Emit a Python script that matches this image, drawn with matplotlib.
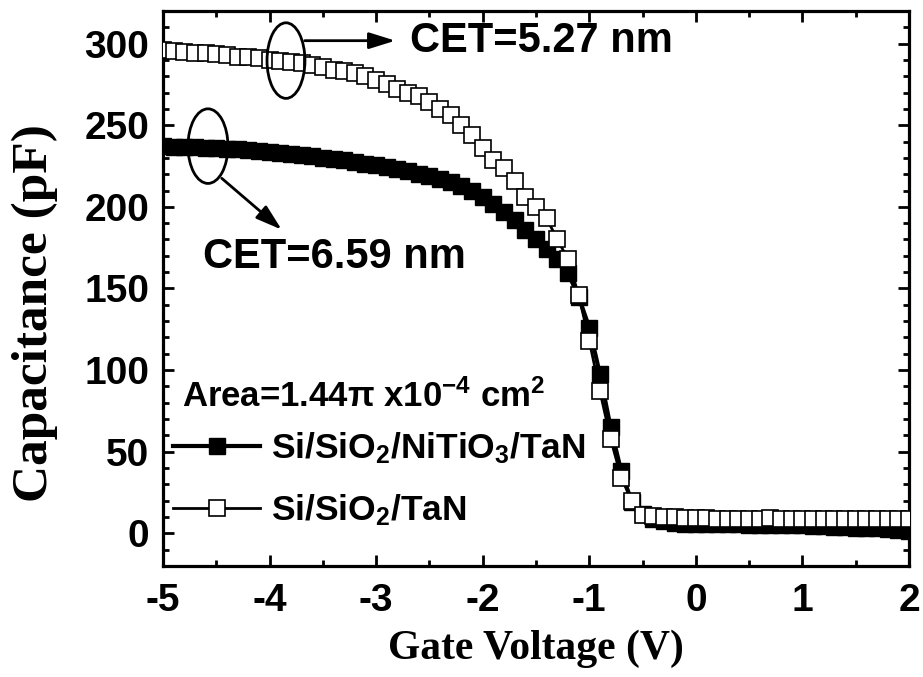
import matplotlib
matplotlib.use("Agg")
import matplotlib.pyplot as plt
from matplotlib.patches import Ellipse

# Gate voltage sweep (V)
voltage = [-5.0, -4.9, -4.8, -4.7, -4.6, -4.5, -4.4, -4.3, -4.2, -4.1,
           -4.0, -3.9, -3.8, -3.7, -3.6, -3.5, -3.4, -3.3, -3.2, -3.1,
           -3.0, -2.9, -2.8, -2.7, -2.6, -2.5, -2.4, -2.3, -2.2, -2.1,
           -2.0, -1.9, -1.8, -1.7, -1.6, -1.5, -1.4, -1.3, -1.2, -1.1,
           -1.0, -0.9, -0.8, -0.7, -0.6, -0.5, -0.4, -0.3, -0.2, -0.1,
           0.0, 0.1, 0.2, 0.3, 0.4, 0.5, 0.6, 0.7, 0.8, 0.9,
           1.0, 1.1, 1.2, 1.3, 1.4, 1.5, 1.6, 1.7, 1.8, 1.9, 2.0]

# Capacitance (pF), Si/SiO2/NiTiO3/TaN stack
cap_nitio3 = [237.0, 236.8, 236.6, 236.4, 236.2, 236.0, 235.6, 235.2, 234.7, 234.2,
              233.6, 233.0, 232.4, 231.7, 231.0, 230.2, 229.3, 228.4, 227.4, 226.4,
              225.4, 224.3, 223.1, 221.8, 220.4, 219.0, 217.3, 215.5, 213.0, 210.0,
              206.0, 202.0, 197.0, 192.0, 186.0, 180.0, 174.0, 168.0, 159.5, 145.0,
              126.0, 97.5, 65.0, 38.0, 19.0, 12.0, 9.0, 7.5, 6.5, 6.0,
              6.0, 5.5, 5.5, 5.5, 5.5, 5.0, 5.0, 5.0, 5.0, 5.0,
              5.0, 4.5, 4.5, 4.0, 4.0, 3.5, 3.0, 3.0, 2.5, 2.0, 1.5]

# Capacitance (pF), Si/SiO2/TaN stack
cap_sio2 = [296.0, 295.5, 295.0, 294.5, 294.0, 293.5, 293.0, 292.0, 291.5, 291.0,
            290.0, 289.5, 289.0, 288.0, 287.0, 285.5, 284.0, 283.0, 282.0, 280.0,
            277.5, 275.0, 272.0, 270.0, 268.0, 264.0, 260.0, 256.0, 250.0, 244.0,
            236.0, 229.0, 223.5, 216.0, 206.0, 200.0, 193.0, 180.0, 168.0, 146.0,
            118.0, 87.0, 58.0, 34.0, 20.0, 11.0, 10.5, 10.0, 10.0, 9.5,
            9.5, 9.5, 9.0, 9.0, 9.0, 9.0, 9.0, 9.5, 9.0, 9.0,
            9.0, 8.5, 8.5, 9.0, 9.0, 9.0, 8.5, 8.5, 8.5, 8.5, 8.5]

x_ticks = [-5, -4, -3, -2, -1, 0, 1, 2]
y_ticks = [0, 50, 100, 150, 200, 250, 300]

label_nitio3 = r"Si/SiO$_\mathbf{2}$/NiTiO$_\mathbf{3}$/TaN"
label_sio2 = r"Si/SiO$_\mathbf{2}$/TaN"

sans = ["Liberation Sans", "DejaVu Sans"]
serif = ["Liberation Serif", "DejaVu Serif"]
plt.rcParams["font.family"] = sans
plt.rcParams["axes.unicode_minus"] = False
plt.rcParams["mathtext.fontset"] = "custom"
plt.rcParams["mathtext.rm"] = "Liberation Sans:bold"
plt.rcParams["mathtext.bf"] = "Liberation Sans:bold"
plt.rcParams["mathtext.it"] = "Liberation Sans:bold"
plt.rcParams["mathtext.default"] = "bf"

fig = plt.figure(figsize=(9.23, 6.77), dpi=100)
ax = fig.add_axes([0.1766, 0.164, 0.8082, 0.8198])

ax.plot(voltage, cap_nitio3, color="black", lw=3.0, marker="s", ms=11,
        mfc="black", mec="black", mew=1.0, label=label_nitio3, zorder=3)
ax.plot(voltage, cap_sio2, color="black", lw=2.0, marker="s", ms=11,
        mfc="white", mec="black", mew=1.2, label=label_sio2, zorder=4)

ax.set_xlim(-5, 2)
ax.set_ylim(-20, 320)
ax.set_xticks(x_ticks)
ax.set_yticks(y_ticks)
ax.set_xticks([v + 0.5 for v in x_ticks[:-1]], minor=True)
ax.set_yticks([v for v in range(-10, 320, 10) if v % 50 != 0], minor=True)

for side in ["left", "right", "top", "bottom"]:
    ax.spines[side].set_linewidth(2.3)
ax.tick_params(which="both", direction="in", top=True, right=True,
               width=2.0)
ax.tick_params(which="major", length=8)
ax.tick_params(which="minor", length=4.5)
ax.tick_params(axis="x", which="major", pad=12)
ax.tick_params(axis="y", which="major", pad=10)
for lbl in ax.get_xticklabels() + ax.get_yticklabels():
    lbl.set_fontsize(28)
    lbl.set_fontweight("bold")

ax.set_xlabel("Gate Voltage (V)", family=serif, fontsize=30,
              fontweight="bold", labelpad=8)
ax.set_ylabel("Capacitance (pF)", family=serif, fontsize=37,
              fontweight="bold")
ax.yaxis.set_label_coords(-0.141, 0.455)

# Ellipses marking the accumulation region of each curve
ax.add_patch(Ellipse((-3.846, 289.6), 0.356, 46.3, fill=False,
                     edgecolor="black", lw=2.0, zorder=5))
ax.add_patch(Ellipse((-4.578, 237.2), 0.375, 45.7, fill=False,
                     edgecolor="black", lw=2.0, zorder=5))

arrow_style = dict(arrowstyle="-|>,head_length=1.6,head_width=0.5",
                   color="black", lw=2.0, shrinkA=0, shrinkB=0)
ax.annotate("", xy=(-2.82, 301.8), xytext=(-3.67, 301.8),
            arrowprops=arrow_style, zorder=5)
ax.annotate("", xy=(-3.886, 186.0), xytext=(-4.449, 217.5),
            arrowprops=arrow_style, zorder=5)

ax.text(-2.683, 301.8, "CET=5.27 nm", fontsize=30, fontweight="bold",
        ha="left", va="center")
ax.text(-4.625, 169.0, "CET=6.59 nm", fontsize=30, fontweight="bold",
        ha="left", va="center")
ax.text(-4.82, 84.0, r"Area=1.44$\pi$ x10$^{\mathbf{-4}}$ cm$^\mathbf{2}$",
        fontsize=25, fontweight="bold", ha="left", va="center")

leg = ax.legend(loc="upper left", bbox_to_anchor=(0.014, 0.245),
                frameon=False, fontsize=25.5, handlelength=2.45,
                handletextpad=0.3, labelspacing=0.75, borderpad=0,
                borderaxespad=0)
for t in leg.get_texts():
    t.set_fontweight("bold")

fig.savefig("out.png", dpi=100)
